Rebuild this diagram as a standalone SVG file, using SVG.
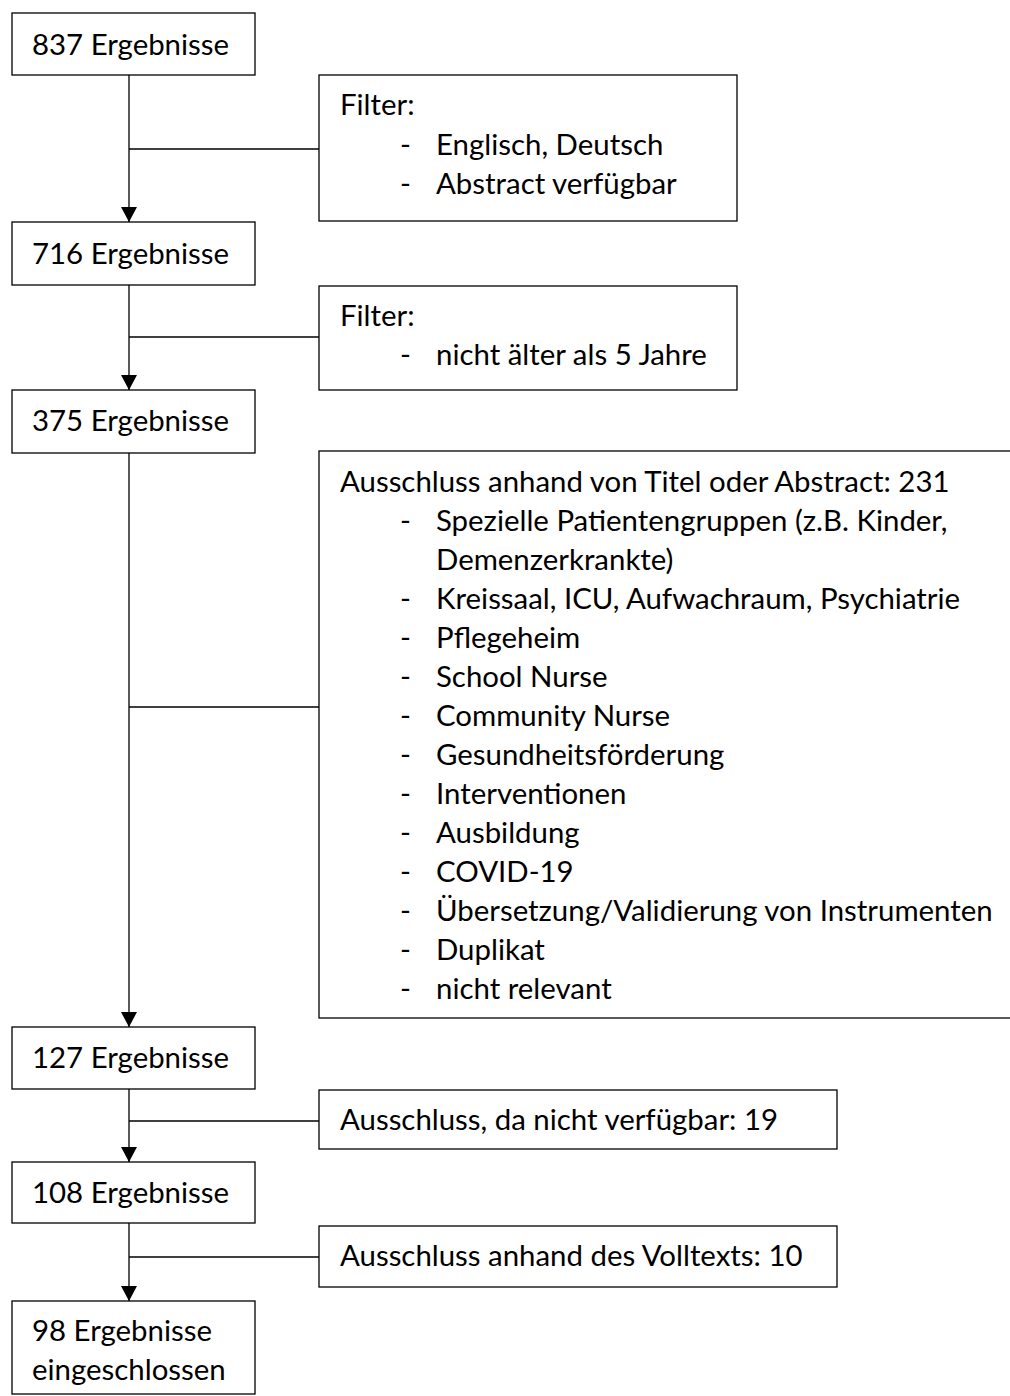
<svg xmlns="http://www.w3.org/2000/svg" width="1010" height="1396" viewBox="0 0 1010 1396">
<style>
  .box{fill:#fff;stroke:#000;stroke-width:1.3}
  .ln{stroke:#000;stroke-width:1.3;fill:none}
  text{font-family:Lato,"Liberation Sans",sans-serif;font-size:29.4px;fill:#000}
</style>
<defs>
  <marker id="arr" markerUnits="userSpaceOnUse" markerWidth="16" markerHeight="16" refX="15" refY="8" orient="auto">
    <path d="M0,0 L15,8 L0,16 Z" fill="#000"/>
  </marker>
</defs>
<rect width="1010" height="1396" fill="#fff"/>
<g id="connectors">
  <line class="ln" x1="129" y1="75" x2="129" y2="222" marker-end="url(#arr)"/>
  <line class="ln" x1="129" y1="149" x2="319" y2="149"/>
  <line class="ln" x1="129" y1="285" x2="129" y2="390" marker-end="url(#arr)"/>
  <line class="ln" x1="129" y1="337" x2="319" y2="337"/>
  <line class="ln" x1="129" y1="453" x2="129" y2="1027" marker-end="url(#arr)"/>
  <line class="ln" x1="129" y1="707" x2="319" y2="707"/>
  <line class="ln" x1="129" y1="1089" x2="129" y2="1162" marker-end="url(#arr)"/>
  <line class="ln" x1="129" y1="1121" x2="319" y2="1121"/>
  <line class="ln" x1="129" y1="1223" x2="129" y2="1301" marker-end="url(#arr)"/>
  <line class="ln" x1="129" y1="1257" x2="319" y2="1257"/>
</g>
<g id="n837">
  <rect class="box" x="12" y="13" width="243" height="62"/>
  <text x="32" y="55">837 Ergebnisse</text>
</g>
<g id="filter1">
  <rect class="box" x="319" y="75" width="418" height="146"/>
  <text x="340" y="115">Filter:</text>
  <text x="400" y="155">-</text>
  <text x="436" y="155">Englisch, Deutsch</text>
  <text x="400" y="194">-</text>
  <text x="436" y="194">Abstract verfügbar</text>
</g>
<g id="n716">
  <rect class="box" x="12" y="222" width="243" height="63"/>
  <text x="32" y="264">716 Ergebnisse</text>
</g>
<g id="filter2">
  <rect class="box" x="319" y="286" width="418" height="104"/>
  <text x="340" y="326">Filter:</text>
  <text x="400" y="365">-</text>
  <text x="436" y="365">nicht älter als 5 Jahre</text>
</g>
<g id="n375">
  <rect class="box" x="12" y="390" width="243" height="63"/>
  <text x="32" y="431">375 Ergebnisse</text>
</g>
<g id="exclusion">
  <rect class="box" x="319" y="451" width="720" height="567"/>
  <text x="340" y="492">Ausschluss anhand von Titel oder Abstract: 231</text>
  <text x="400" y="531">-</text><text x="436" y="531">Spezielle Patientengruppen (z.B. Kinder,</text>
  <text x="436" y="570">Demenzerkrankte)</text>
  <text x="400" y="609">-</text><text x="436" y="609">Kreissaal, ICU, Aufwachraum, Psychiatrie</text>
  <text x="400" y="648">-</text><text x="436" y="648">Pflegeheim</text>
  <text x="400" y="687">-</text><text x="436" y="687">School Nurse</text>
  <text x="400" y="726">-</text><text x="436" y="726">Community Nurse</text>
  <text x="400" y="765">-</text><text x="436" y="765">Gesundheitsförderung</text>
  <text x="400" y="804">-</text><text x="436" y="804">Interventionen</text>
  <text x="400" y="843">-</text><text x="436" y="843">Ausbildung</text>
  <text x="400" y="882">-</text><text x="436" y="882">COVID-19</text>
  <text x="400" y="921">-</text><text x="436" y="921">Übersetzung/Validierung von Instrumenten</text>
  <text x="400" y="960">-</text><text x="436" y="960">Duplikat</text>
  <text x="400" y="999">-</text><text x="436" y="999">nicht relevant</text>
</g>
<g id="n127">
  <rect class="box" x="12" y="1027" width="243" height="62"/>
  <text x="32" y="1068">127 Ergebnisse</text>
</g>
<g id="excl19">
  <rect class="box" x="319" y="1090" width="518" height="59"/>
  <text x="340" y="1130">Ausschluss, da nicht verfügbar: 19</text>
</g>
<g id="n108">
  <rect class="box" x="12" y="1162" width="243" height="61"/>
  <text x="32" y="1203">108 Ergebnisse</text>
</g>
<g id="excl10">
  <rect class="box" x="319" y="1226" width="518" height="61"/>
  <text x="340" y="1266">Ausschluss anhand des Volltexts: 10</text>
</g>
<g id="n98">
  <rect class="box" x="12" y="1301" width="243" height="93"/>
  <text x="32" y="1341">98 Ergebnisse</text>
  <text x="32" y="1380">eingeschlossen</text>
</g>
</svg>
